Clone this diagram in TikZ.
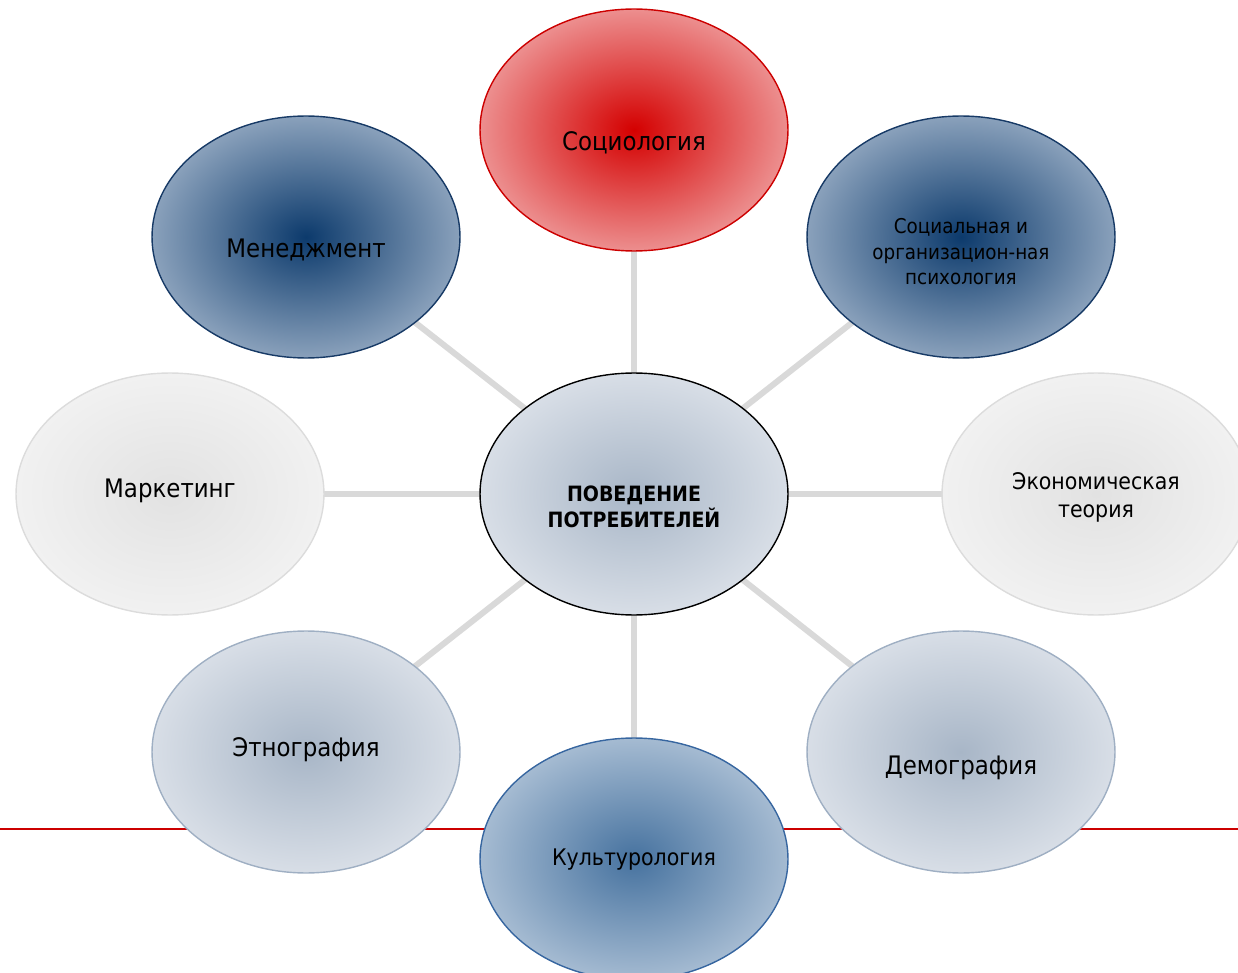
\documentclass[tikz,border=0pt]{standalone}
\usepackage{fontspec}
\setmainfont{DejaVu Sans Condensed}
\usetikzlibrary{backgrounds, shapes.geometric}

\definecolor{redin}{HTML}{D40000}
\definecolor{redout}{HTML}{F6C8C8}
\definecolor{navyin}{HTML}{0C3A6C}
\definecolor{navyout}{HTML}{BCCADB}
\definecolor{navyline}{HTML}{173A66}
\definecolor{bluein}{HTML}{46729F}
\definecolor{blueout}{HTML}{CBD8E6}
\definecolor{blueline}{HTML}{3766A0}
\definecolor{steelin}{HTML}{A8B6C7}
\definecolor{steelout}{HTML}{EBEEF3}
\definecolor{steelline}{HTML}{9FAFC3}
\definecolor{greyin}{HTML}{E2E2E2}
\definecolor{greyout}{HTML}{F7F7F7}
\definecolor{greyline}{HTML}{DCDCDC}
\definecolor{linkgrey}{HTML}{D9D9D9}
\definecolor{ruler}{HTML}{CC0000}

\pgfdeclareradialshading{redglow}{\pgfpointorigin}{color(0bp)=(redin); color(35bp)=(redout); color(50bp)=(redout)}
\pgfdeclareradialshading{navyglow}{\pgfpointorigin}{color(0bp)=(navyin); color(35bp)=(navyout); color(50bp)=(navyout)}
\pgfdeclareradialshading{blueglow}{\pgfpointorigin}{color(0bp)=(bluein); color(35bp)=(blueout); color(50bp)=(blueout)}
\pgfdeclareradialshading{steelglow}{\pgfpointorigin}{color(0bp)=(steelin); color(35bp)=(steelout); color(50bp)=(steelout)}
\pgfdeclareradialshading{greyglow}{\pgfpointorigin}{color(0bp)=(greyin); color(35bp)=(greyout); color(50bp)=(greyout)}

\tikzstyle{ell}=[shape=ellipse, minimum width=6.16cm, minimum height=4.84cm, inner sep=0pt, line width=0.8pt, shade]
\tikzstyle{txt}=[align=center, inner sep=0pt, font=\fontsize{14.5}{17.5}\selectfont]
\tikzstyle{small}=[align=center, inner sep=0pt, font=\fontsize{11.6}{14.5}\selectfont]
\tikzstyle{mid}=[align=center, inner sep=0pt, font=\fontsize{13}{16}\selectfont]
\tikzstyle{link}=[draw=linkgrey, line width=0.12cm]

\begin{document}
\begin{tikzpicture}[x=0.02cm, y=-0.02cm]
	\useasboundingbox (0,0) rectangle (1238,973);
	\clip (0,0) rectangle (1238,973);

	\node[style=ell, shading=steelglow, draw=black] (main) at (634,494) {};
	\node[style=ell, shading=redglow, draw=ruler] (soc) at (634,130) {};
	\node[style=ell, shading=navyglow, draw=navyline] (men) at (306,237) {};
	\node[style=ell, shading=navyglow, draw=navyline] (psy) at (961,237) {};
	\node[style=ell, shading=greyglow, draw=greyline] (mark) at (170,494) {};
	\node[style=ell, shading=greyglow, draw=greyline] (econ) at (1096,494) {};
	\node[style=ell, shading=steelglow, draw=steelline] (eth) at (306,752) {};
	\node[style=ell, shading=steelglow, draw=steelline] (dem) at (961,752) {};
	\node[style=ell, shading=blueglow, draw=blueline] (cult) at (634,859) {};

	\node[style=small, font=\bfseries\fontsize{12}{14.8}\selectfont] (main-t) at (634,507) {ПОВЕДЕНИЕ\\ПОТРЕБИТЕЛЕЙ};
	\node[style=txt] (soc-t) at (634,143) {Социология};
	\node[style=txt] (men-t) at (306,250) {Менеджмент};
	\node[style=small] (psy-t) at (961,252) {Социальная и\\организацион-ная\\психология};
	\node[style=txt] (mark-t) at (170,491) {Маркетинг};
	\node[style=mid] (econ-t) at (1096,497) {Экономическая\\теория};
	\node[style=txt] (eth-t) at (306,750) {Этнография};
	\node[style=txt] (dem-t) at (961,768) {Демография};
	\node[style=mid] (cult-t) at (634,860) {Культурология};

	\begin{scope}[on background layer]
		\draw[draw=ruler, line width=0.04cm] (0,829) -- (1238,829);
		\draw[style=link] (main.center) to (soc.center);
		\draw[style=link] (main.center) to (men.center);
		\draw[style=link] (main.center) to (psy.center);
		\draw[style=link] (main.center) to (mark.center);
		\draw[style=link] (main.center) to (econ.center);
		\draw[style=link] (main.center) to (eth.center);
		\draw[style=link] (main.center) to (dem.center);
		\draw[style=link] (main.center) to (cult.center);
	\end{scope}
\end{tikzpicture}
\end{document}
